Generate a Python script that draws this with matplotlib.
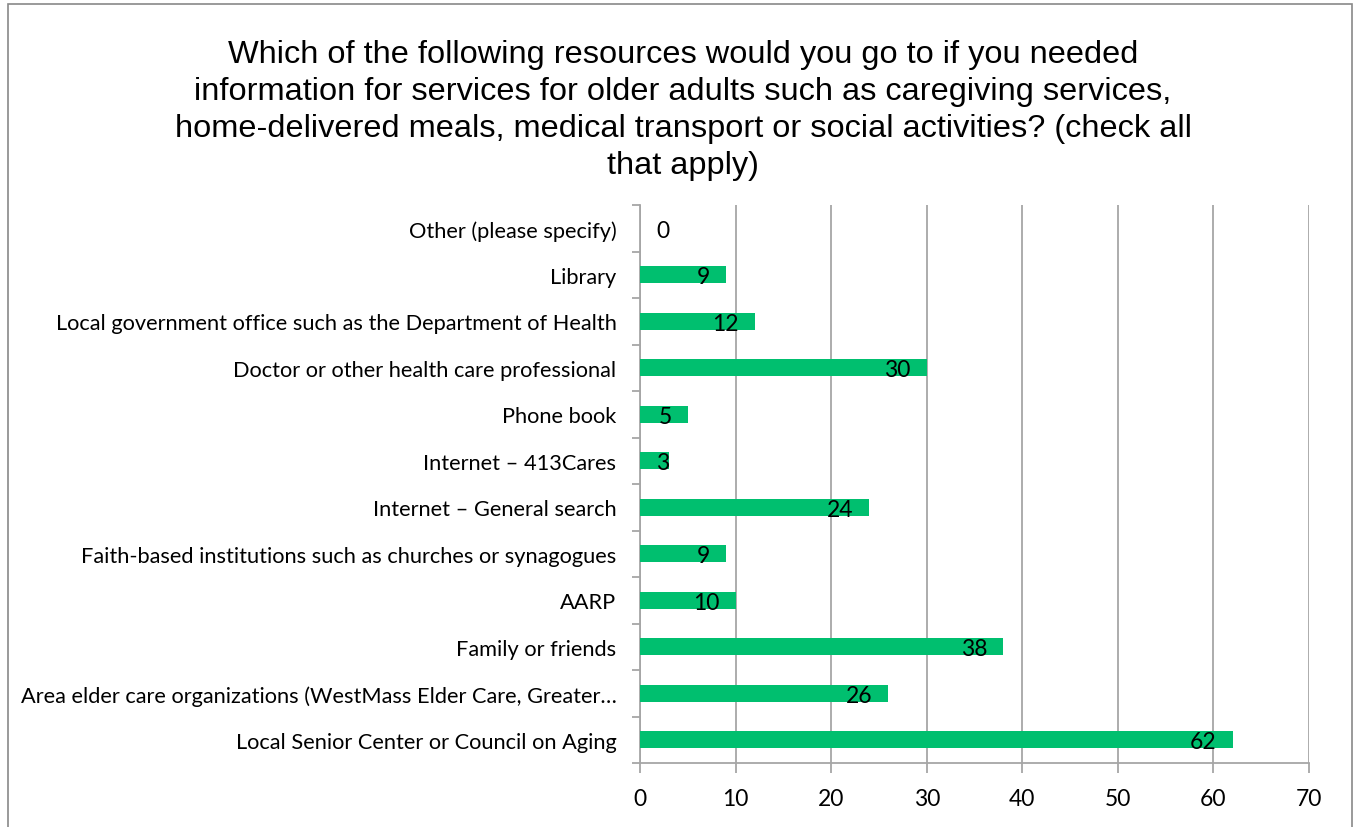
import matplotlib
matplotlib.use("Agg")
import matplotlib.pyplot as plt
from matplotlib.patches import Rectangle

# survey answers, bottom to top as drawn
categories = [
    "Local Senior Center or Council on Aging",
    "Area elder care organizations (WestMass Elder Care, Greater\u2026",
    "Family or friends",
    "AARP",
    "Faith-based institutions such as churches or synagogues",
    "Internet \u2013 General search",
    "Internet \u2013 413Cares",
    "Phone book",
    "Doctor or other health care professional",
    "Local government office such as the Department of Health",
    "Library",
    "Other (please specify)",
]
counts = [62, 26, 38, 10, 9, 24, 3, 5, 30, 12, 9, 0]
xticks = [0, 10, 20, 30, 40, 50, 60, 70]

title = ("Which of the following resources would you go to if you needed\n"
         "information for services for older adults such as caregiving services,\n"
         "home-delivered meals, medical transport or social activities? (check all\n"
         "that apply)")

green = "#00BF6F"
grey = "#A6A6A6"
label_font = "Lato"

fig = plt.figure(figsize=(13.55, 8.28), dpi=100)

# outer chart border
fig.patches.append(Rectangle((8 / 1355, -0.05), (1352 - 8) / 1355, 1.05 - 5 / 828,
                             transform=fig.transFigure, fill=False,
                             edgecolor="#898989", linewidth=1.2))

ax = fig.add_axes([640 / 1355, 1 - 764 / 828, (1309 - 640) / 1355, (764 - 206) / 828])

ypos = list(range(len(categories)))
ax.barh(ypos, counts, height=0.36, color=green, zorder=3)

ax.set_xlim(0, 70)
ax.set_ylim(-0.5, len(categories) - 0.5)

# value labels: inside end, but never closer than 16px to the axis
renderer = fig.canvas.get_renderer()
ax_left = ax.get_window_extent(renderer).x0
for y, v in zip(ypos, counts):
    t = ax.annotate(str(v), (v, y), xytext=(-16, -2), textcoords="offset pixels",
                    ha="right", va="center", fontsize=16.5, family=label_font, zorder=4)
    if t.get_window_extent(renderer).x0 < ax_left + 16:
        t.xy = (0, y)
        t.set_position((16, -2))
        t.set_ha("left")

ax.set_xticks(xticks)
ax.set_xticklabels([str(t) for t in xticks], fontsize=16.5, family=label_font)
ax.set_yticks(ypos)
ax.set_yticklabels(categories, fontsize=15.7, family=label_font)
ax.set_yticks([i - 0.5 for i in range(len(categories) + 1)], minor=True)

ax.grid(axis="x", color=grey, linewidth=1.3, zorder=0)
ax.tick_params(axis="y", which="major", length=0, pad=17)
ax.tick_params(axis="y", which="minor", length=6, color=grey, width=1.3)
ax.tick_params(axis="x", which="major", length=7, color=grey, width=1.3, pad=11)

for s in ["top", "right"]:
    ax.spines[s].set_visible(False)
for s in ["left", "bottom"]:
    ax.spines[s].set_color(grey)
    ax.spines[s].set_linewidth(1.3)

fig.text(683 / 1355, 1 - 40 / 828, title, ha="center", va="top",
         fontsize=23.4, family="Liberation Sans", linespacing=1.3)

fig.savefig("out.png", dpi=100)
